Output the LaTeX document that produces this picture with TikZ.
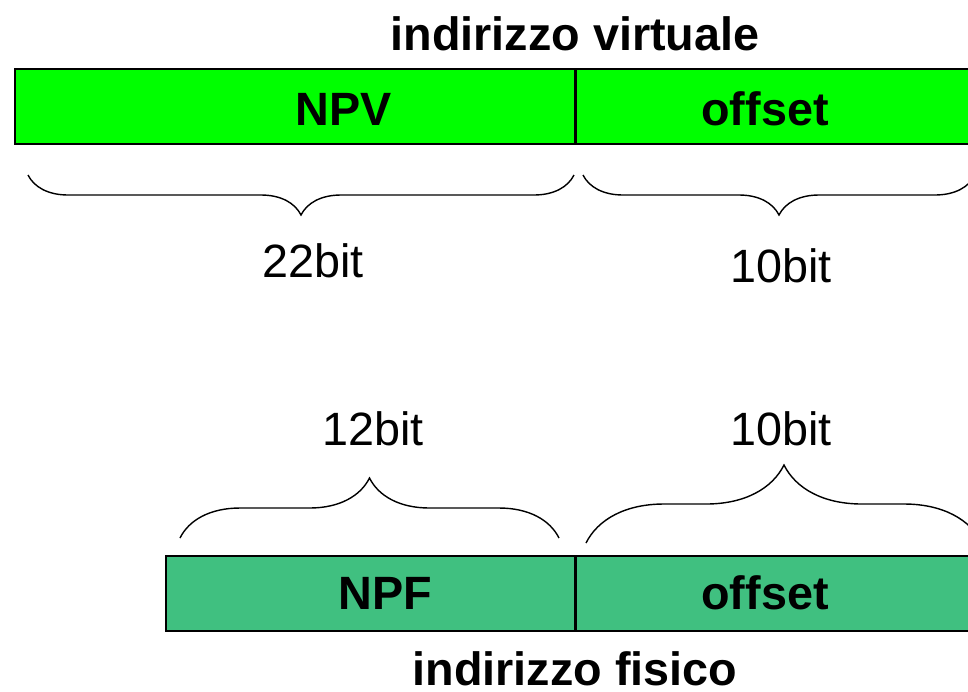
\documentclass[tikz,border=0pt]{standalone}
\usepackage{fontspec}
\setmainfont{Liberation Sans}
\usetikzlibrary{decorations.pathreplacing}
\definecolor{virtgreen}{RGB}{0,255,0}
\definecolor{physgreen}{RGB}{64,192,128}
\begin{document}
\begin{tikzpicture}[x=0.02cm,y=-0.02cm,
    field/.style={draw,line width=1pt,minimum height=1.5cm,inner sep=0pt,anchor=north west},
    big/.style={font=\bfseries\fontsize{26.6}{32}\selectfont,anchor=base,inner sep=0pt},
    size/.style={font=\fontsize{26.6}{32}\selectfont,anchor=base,inner sep=0pt},
    downbrace/.style={decorate,decoration={brace,mirror,amplitude=#1},line width=0.8pt},
    upbrace/.style={decorate,decoration={brace,amplitude=#1},line width=0.8pt}]
    \useasboundingbox (0,0) rectangle (968,691);
    \clip (0,0) rectangle (968,691);
    % virtual address
    \node[big] (tv) at (575,50) {indirizzo virtuale};
    \node[field,fill=virtgreen,minimum width=11.2cm] (npv) at (14,68) {};
    \node[field,fill=virtgreen,minimum width=8.2cm] (offv) at (npv.north east) {};
    \node[big] (lnpv) at (344,125) {NPV};
    \node[big] (loffv) at (765,125) {offset};
    \draw[downbrace=0.8cm] (28,175) -- (574,175);
    \draw[downbrace=0.8cm] (583,175) -- (975,175);
    \node[size] (b22) at (313,277) {22bit};
    \node[size] (b10v) at (781,282) {10bit};
    % physical address
    \node[size] (b12) at (373,445) {12bit};
    \node[size] (b10f) at (781,445) {10bit};
    \draw[upbrace=1.2cm] (180,538) -- (559,538);
    \draw[upbrace=1.56cm] (586,543) -- (982,543);
    \node[field,fill=physgreen,minimum width=8.18cm] (npf) at (165,555) {};
    \node[field,fill=physgreen,minimum width=8.2cm] (offf) at (npf.north east) {};
    \node[big] (lnpf) at (385,609) {NPF};
    \node[big] (lofff) at (765,609) {offset};
    \node[big] (tf) at (575,685) {indirizzo fisico};
\end{tikzpicture}
\end{document}
